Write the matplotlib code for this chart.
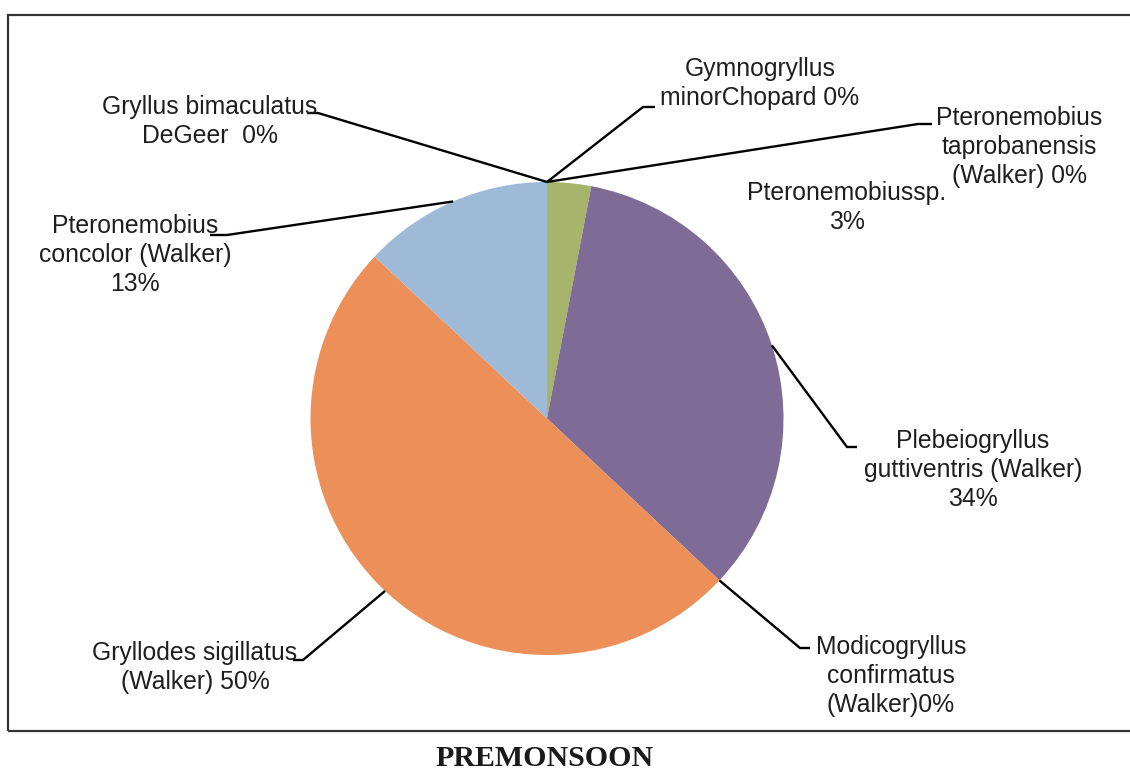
import matplotlib
matplotlib.use("Agg")
import matplotlib.pyplot as plt
import numpy as np
from matplotlib.patches import Rectangle

# ---------------- data ----------------
species = [
    "Gymnogryllus minorChopard",
    "Pteronemobius taprobanensis (Walker)",
    "Pteronemobiussp.",
    "Plebeiogryllus guttiventris (Walker)",
    "Modicogryllus confirmatus (Walker)",
    "Gryllodes sigillatus (Walker)",
    "Pteronemobius concolor (Walker)",
    "Gryllus bimaculatus DeGeer",
]
percent = [0, 0, 3, 34, 0, 50, 13, 0]
label_lines = [
    ["Gymnogryllus", "minorChopard 0%"],
    ["Pteronemobius", "taprobanensis", "(Walker) 0%"],
    ["Pteronemobiussp.", "3%"],
    ["Plebeiogryllus", "guttiventris (Walker)", "34%"],
    ["Modicogryllus", "confirmatus", "(Walker)0%"],
    ["Gryllodes sigillatus", "(Walker) 50%"],
    ["Pteronemobius", "concolor (Walker)", "13%"],
    ["Gryllus bimaculatus", "DeGeer  0%"],
]
title = "PREMONSOON"

# ---------------- style / layout (pixel units, y from top) ----------------
W, H = 1130, 771
colors = ["#4f81bd", "#c0504d", "#a6b46c", "#7e6c96", "#4bacc6",
          "#ec8f58", "#9ebad6", "#f79646"]
center_px = (547, 418.5)
radius_px = 236.5
# label center x, first baseline y, elbow point, end point
label_pos = [
    (760, 76, (643, 107), (655, 107)),
    (1019, 125, (918, 124), (932, 124)),
    (847, 200, None, None),
    (973, 448, (847, 447), (857, 447)),
    (891, 654, (800, 648), (810, 648)),
    (195, 660, (303, 660), (293, 660)),
    (135, 233, (227, 235), (210, 235)),
    (210, 114, (318, 113), (307, 113)),
]
line_step = 29
fs = 17.8
txt_color = "#1e1e1e"

def fy(y):
    return H - y

plt.rcParams["font.family"] = ["Liberation Sans", "DejaVu Sans"]
fig = plt.figure(figsize=(W / 100, H / 100), dpi=100)
ax = fig.add_axes([0, 0, 1, 1])

cx, cy = center_px[0], fy(center_px[1])
wedges, _ = ax.pie(percent, colors=colors, startangle=90, counterclock=False,
                   radius=radius_px, center=(cx, cy),
                   wedgeprops=dict(linewidth=0))
ax.set_xlim(0, W)
ax.set_ylim(0, H)
ax.set_aspect("auto")
ax.axis("off")

for w, lines, (lx, ly, elbow, end) in zip(wedges, label_lines, label_pos):
    if elbow is not None:
        ang = np.deg2rad((w.theta1 + w.theta2) / 2)
        sx = cx + radius_px * np.cos(ang)
        sy = cy + radius_px * np.sin(ang)
        ax.plot([sx, elbow[0], end[0]], [sy, fy(elbow[1]), fy(end[1])],
                color="black", lw=1.7, solid_capstyle="butt", zorder=3)
    for i, t in enumerate(lines):
        ax.text(lx, fy(ly + i * line_step), t, ha="center", va="baseline",
                fontsize=fs, color=txt_color, zorder=4)

# outer frame
ax.add_patch(Rectangle((8, fy(731)), W + 20, 731 - 15, fill=False,
                       edgecolor="#333333", lw=1.6, zorder=5))

ax.text(545, fy(766), title, ha="center", va="baseline", fontsize=21.5,
        fontweight="bold", family=["Liberation Serif", "DejaVu Serif"],
        color="#1a1a1a")

fig.savefig("out.png", dpi=100)
